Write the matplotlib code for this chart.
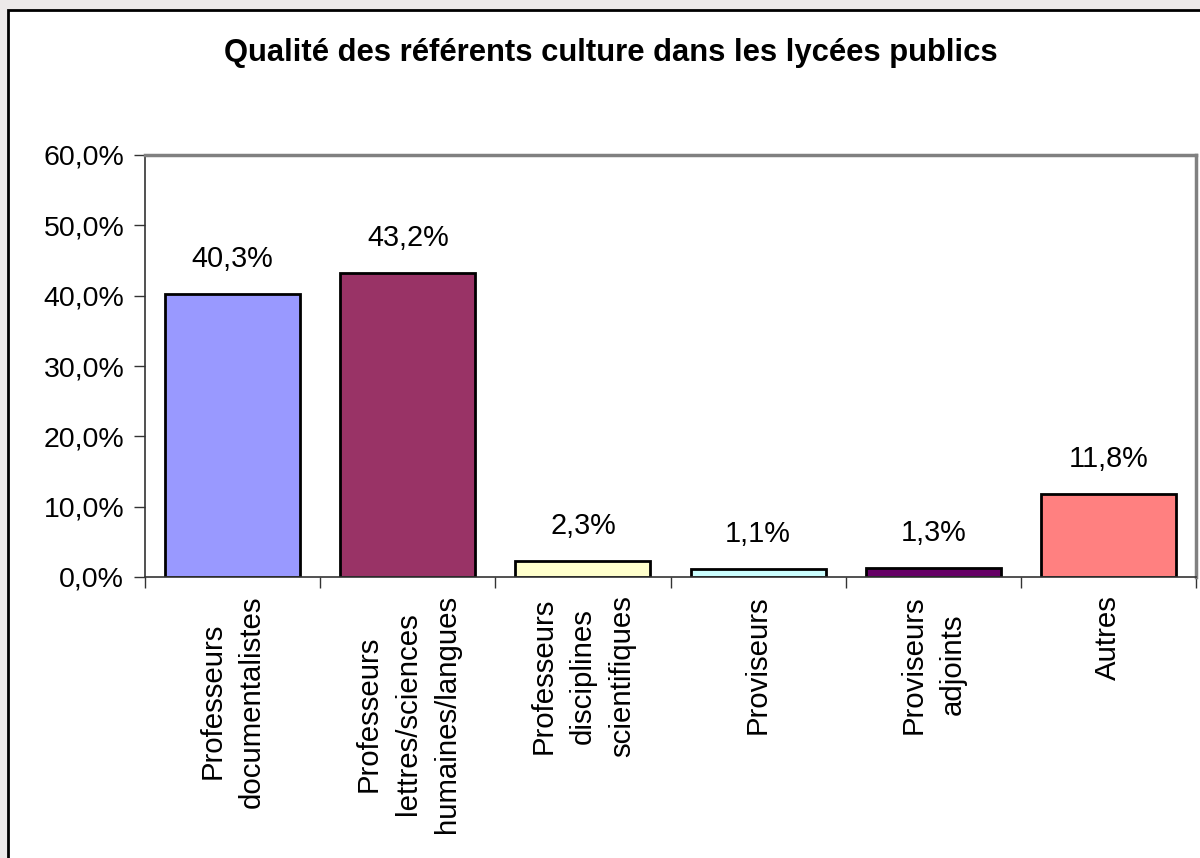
import matplotlib.pyplot as plt
from matplotlib.patches import Rectangle
from matplotlib.ticker import FixedLocator, FuncFormatter

# Données du graphique
categories = ['Professeurs\ndocumentalistes',
              'Professeurs\nlettres/sciences\nhumaines/langues',
              'Professeurs\ndisciplines\nscientifiques',
              'Proviseurs',
              'Proviseurs\nadjoints',
              'Autres']
valeurs = [40.3, 43.2, 2.3, 1.1, 1.3, 11.8]
couleurs = ['#9999FF', '#993366', '#FFFFCC', '#CCFFFF', '#660066', '#FF8080']
titre = 'Qualité des référents culture dans les lycées publics'

plt.rcParams['font.family'] = ['Liberation Sans', 'DejaVu Sans']

fig = plt.figure(figsize=(12, 8.58), dpi=100)
fig.patch.set_facecolor('#ECE9E9')

# Cadre blanc du graphique (style Excel)
cadre = Rectangle((8 / 1200, -0.1), 1.2, 1.1 - 10 / 858, transform=fig.transFigure,
                  facecolor='white', edgecolor='black', linewidth=2, zorder=-10)
fig.patches.append(cadre)

ax = fig.add_axes([145 / 1200, 1 - 577 / 858, (1196 - 145) / 1200, (577 - 155) / 858])
ax.set_facecolor('white')

x = range(len(valeurs))
ax.bar(x, valeurs, width=0.77, color=couleurs, edgecolor='black', linewidth=2, zorder=3)

# Etiquettes de valeurs
for xi, v in zip(x, valeurs):
    ax.annotate(f'{v:.1f}%'.replace('.', ','), (xi, v), xytext=(0, 15),
                textcoords='offset points', ha='center', va='bottom', fontsize=20.8)

ax.set_xlim(-0.5, len(valeurs) - 0.5)
ax.set_ylim(0, 60)
ax.set_yticks(range(0, 61, 10))
ax.yaxis.set_major_formatter(FuncFormatter(lambda v, p: f'{v:.1f}%'.replace('.', ',')))
ax.tick_params(axis='y', direction='out', length=8, width=1, color='#333333',
               labelsize=20.5, pad=7)

ax.set_xticks(list(x))
ax.set_xticklabels(categories, rotation=90, ha='center', va='top',
                   multialignment='center', linespacing=1.5, fontsize=21.2)
ax.tick_params(axis='x', which='major', length=0, pad=13)
ax.xaxis.set_minor_locator(FixedLocator([i - 0.5 for i in range(len(valeurs) + 1)]))
ax.tick_params(axis='x', which='minor', direction='out', length=8, width=1, color='#333333')

for s in ['top', 'right']:
    ax.spines[s].set_color('#808080')
    ax.spines[s].set_linewidth(2.5)
for s in ['left', 'bottom']:
    ax.spines[s].set_color('#333333')
    ax.spines[s].set_linewidth(1.2)
ax.spines['bottom'].set_zorder(4)

fig.text(611 / 1200, 1 - 53 / 858, titre, ha='center', va='center',
         fontsize=22.3, fontweight='bold')

fig.savefig('out.png', dpi=100, facecolor=fig.get_facecolor())
